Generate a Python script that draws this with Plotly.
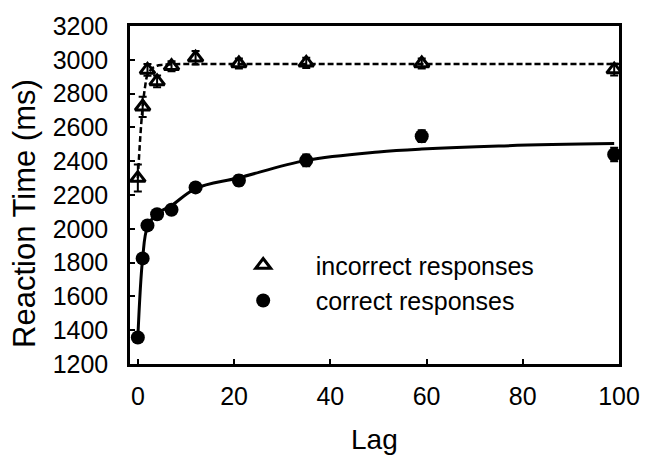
import plotly.graph_objects as go

# Lag conditions
lags = [0, 1, 2, 4, 7, 12, 21, 35, 59, 99]

# Mean reaction times (ms) and standard errors
incorrect_rt = [2300, 2722, 2940, 2872, 2962, 3012, 2978, 2982, 2978, 2942]
incorrect_se = [80, 60, 35, 35, 30, 40, 30, 30, 30, 35]
correct_rt = [1357, 1825, 2020, 2086, 2113, 2245, 2286, 2405, 2548, 2440]
correct_se = [20, 20, 20, 20, 20, 25, 30, 35, 35, 40]

# Fitted curves, sampled at selected lags
fit_incorrect_lag = [0, 0.5, 1, 1.5, 2, 3, 4, 5, 7, 10, 20, 40, 60, 80, 100]
fit_incorrect_rt = [2300, 2540, 2720, 2840, 2910, 2950, 2965, 2970, 2973, 2975, 2975, 2975, 2975, 2975, 2975]
fit_correct_lag = [0, 1, 2, 4, 7, 12, 21, 35, 50, 59, 75, 99]
fit_correct_rt = [1357, 1825, 2012, 2090, 2138, 2238, 2302, 2405, 2455, 2472, 2490, 2504]

x_ticks = [0, 20, 40, 60, 80, 100]
y_ticks = [1200, 1400, 1600, 1800, 2000, 2200, 2400, 2600, 2800, 3000, 3200]

FONT = "Arial, Liberation Sans, sans-serif"

fig = go.Figure()

fig.add_trace(go.Scatter(
    x=fit_incorrect_lag, y=fit_incorrect_rt, mode="lines",
    line=dict(color="black", width=2.5, dash="6px,3px", shape="spline"),
    showlegend=False, hoverinfo="skip"))
fig.add_trace(go.Scatter(
    x=fit_correct_lag, y=fit_correct_rt, mode="lines",
    line=dict(color="black", width=3, shape="spline"),
    showlegend=False, hoverinfo="skip"))

fig.add_trace(go.Scatter(
    x=lags, y=incorrect_rt, mode="markers", name="incorrect responses",
    marker=dict(symbol="triangle-up-open", size=13, color="black",
                line=dict(color="black", width=3)),
    error_y=dict(type="data", array=incorrect_se, visible=True,
                 color="black", thickness=2, width=4)))
fig.add_trace(go.Scatter(
    x=lags, y=correct_rt, mode="markers", name="correct responses",
    marker=dict(symbol="circle", size=14, color="black"),
    error_y=dict(type="data", array=correct_se, visible=True,
                 color="black", thickness=2, width=4)))

fig.update_layout(
    width=652, height=457,
    margin=dict(l=130, r=24, t=16, b=93),
    paper_bgcolor="white", plot_bgcolor="white",
    font=dict(family=FONT, size=25, color="black"),
    showlegend=True,
    legend=dict(x=0.165, y=0.36, xanchor="left", yanchor="top",
                bgcolor="rgba(0,0,0,0)", font=dict(size=25),
                itemwidth=95, tracegroupgap=0),
    xaxis=dict(range=[-1.63, 100], tickvals=x_ticks, ticks="inside",
               ticklen=5, tickwidth=2, tickcolor="black",
               showline=True, linecolor="black", linewidth=2.5, mirror=True,
               showgrid=False, zeroline=False, ticklabelstandoff=8,
               tickfont=dict(size=25)),
    yaxis=dict(range=[1200, 3200], tickvals=y_ticks, ticks="inside",
               ticklen=5, tickwidth=2, tickcolor="black",
               showline=True, linecolor="black", linewidth=2.5, mirror=True,
               showgrid=False, zeroline=False, ticklabelstandoff=14,
               tickfont=dict(size=25)),
    annotations=[
        dict(text="Lag", xref="paper", yref="paper", x=0.5, y=-0.172,
             xanchor="center", yanchor="top", showarrow=False,
             font=dict(size=28)),
        dict(text="Reaction Time (ms)", xref="paper", yref="paper",
             x=-0.217, y=0.5, yshift=-18, xanchor="center", yanchor="middle",
             textangle=-90, showarrow=False, font=dict(size=31)),
    ],
)

fig.write_html("out.html")
